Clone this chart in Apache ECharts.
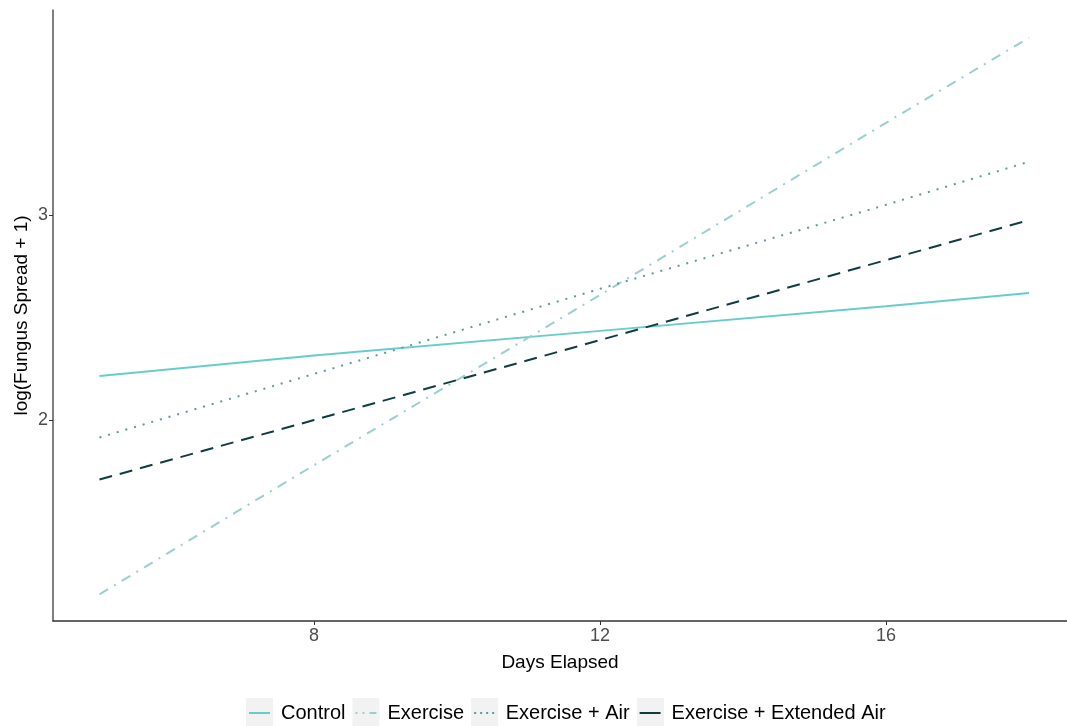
<!DOCTYPE html>
<html>
<head>
<meta charset="utf-8">
<title>Fungus Spread</title>
<script src="https://cdn.jsdelivr.net/npm/echarts@6/dist/echarts.min.js"></script>
<style>
  html, body { margin: 0; padding: 0; background: #fff; }
  #chart { width: 1067px; height: 726px; }
</style>
</head>
<body>
<div id="chart"></div>
<script>
// 数据
const days = [5, 8, 12, 16, 18];
const controlVals = [2.215, 2.315, 2.435, 2.555, 2.62];
const exerciseVals = [1.15, 1.78, 2.61, 3.45, 3.865];
const airVals = [1.915, 2.225, 2.64, 3.05, 3.26];
const extAirVals = [1.71, 2.0, 2.39, 2.78, 2.975];
const seriesNames = ['Control', 'Exercise', 'Exercise + Air', 'Exercise + Extended Air'];
const xTicks = [8, 12, 16];
const yTicks = [2, 3];

const FONT = '"Liberation Sans", Arial, sans-serif';
const colors = ['#66CDCC', '#99CFCF', '#5E9A9A', '#0F3D3F'];
const dashes = ['solid', [10, 7, 2, 7], [2, 7], [13, 8]];
const allVals = [controlVals, exerciseVals, airVals, extAirVals];

// 图例小图标（21x2 的线段样式）
const legendIcons = [
    'path://M0,0H21V2H0Z',
    'path://M0,0H2V2H0Z M7,0H9V2H7Z M14,0H21V2H14Z',
    'path://M0,0H2V2H0Z M6,0H8V2H6Z M12,0H14V2H12Z M18,0H20V2H18Z',
    'path://M0,0H21V2H0Z'
];

const chart = echarts.init(document.getElementById('chart'));

// 图例的灰色底框：按文字宽度算位置
const legendLeft = 249, iconW = 21, textPad = 6, itemGap = 10, legendFont = 20;
const ctx = document.createElement('canvas').getContext('2d');
ctx.font = legendFont + 'px ' + FONT;
const keyBoxes = [];
let cx = legendLeft;
seriesNames.forEach(name => {
    keyBoxes.push({
        type: 'rect',
        left: cx - 3, top: 698,
        shape: { width: 27, height: 28 },
        style: { fill: '#F2F2F2' },
        z: -1
    });
    cx += iconW + 5 + textPad + ctx.measureText(name).width + itemGap;
});

chart.setOption({
    animation: false,
    graphic: keyBoxes,
    grid: { left: 53, right: 0, top: 10, bottom: 105 },
    legend: {
        left: legendLeft,
        top: 703,
        padding: 0,
        itemWidth: iconW,
        itemHeight: 2,
        itemGap: itemGap,
        data: seriesNames.map((name, i) => ({ name: name, icon: legendIcons[i] })),
        textStyle: { fontFamily: FONT, fontSize: legendFont, color: '#000', padding: [0, 0, 0, textPad] }
    },
    xAxis: {
        type: 'value',
        min: 4.35,
        max: 18.53,
        name: 'Days Elapsed',
        nameLocation: 'middle',
        nameGap: 32,
        nameTextStyle: { fontFamily: FONT, fontSize: 19, color: '#000' },
        axisLine: { show: true, lineStyle: { color: '#333', width: 1.5 } },
        axisTick: { show: true, length: 4, customValues: xTicks, lineStyle: { color: '#333' } },
        axisLabel: { customValues: xTicks, margin: 6, fontFamily: FONT, fontSize: 18, color: '#4D4D4D' },
        splitLine: { show: false }
    },
    yAxis: {
        type: 'value',
        min: 1.02,
        max: 4.0,
        name: 'log(Fungus Spread + 1)',
        nameLocation: 'middle',
        nameGap: 22,
        nameMoveOverlap: false,
        nameTextStyle: { fontFamily: FONT, fontSize: 19, color: '#000' },
        axisLine: { show: true, lineStyle: { color: '#555', width: 1.5 } },
        axisTick: { show: true, length: 4, customValues: yTicks, lineStyle: { color: '#333' } },
        axisLabel: { customValues: yTicks, margin: 5, fontFamily: FONT, fontSize: 18, color: '#4D4D4D' },
        splitLine: { show: false }
    },
    series: seriesNames.map((name, i) => ({
        name: name,
        type: 'line',
        symbol: 'none',
        data: days.map((d, j) => [d, allVals[i][j]]),
        itemStyle: { color: colors[i] },
        lineStyle: { color: colors[i], width: 2, type: dashes[i] }
    }))
});
</script>
</body>
</html>
